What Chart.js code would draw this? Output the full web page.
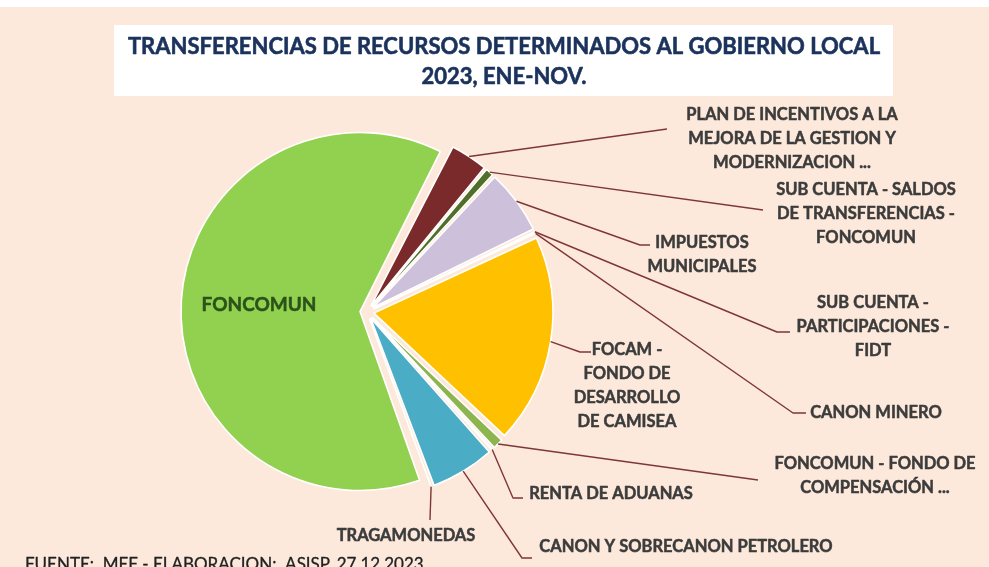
<!DOCTYPE html>
<html lang="es">
<head>
<meta charset="utf-8">
<title>Transferencias de recursos determinados al gobierno local 2023</title>
<script src="https://cdn.jsdelivr.net/npm/chart.js@4.4.1/dist/chart.umd.min.js"></script>
<style>
  html, body { margin: 0; padding: 0; background: #fff; }
  canvas { display: block; }
</style>
</head>
<body>
<canvas id="grafico" width="989" height="567"></canvas>
<script>
// rubros en el sentido de las agujas del reloj, empezando por el de arriba a la derecha
const rubros = [
  'PLAN DE INCENTIVOS A LA MEJORA DE LA GESTION Y MODERNIZACION ...',
  'SUB CUENTA - SALDOS DE TRANSFERENCIAS - FONCOMUN',
  'IMPUESTOS MUNICIPALES',
  'SUB CUENTA - PARTICIPACIONES - FIDT',
  'CANON MINERO',
  'FOCAM - FONDO DE DESARROLLO DE CAMISEA',
  'FONCOMUN - FONDO DE COMPENSACIÓN ...',
  'RENTA DE ADUANAS',
  'CANON Y SOBRECANON PETROLERO',
  'TRAGAMONEDAS',
  'FONCOMUN'
];
// participación (%)
const participacion = [3.5, 0.9, 5.9, 0.2, 0.1, 18.9, 1.1, 0.3, 5.9, 0.2, 63.0];

const colores = ['#7a2a2a', '#4f6f2a', '#ccc0da', '#4f81bd', '#8064a2', '#ffc000',
                 '#8db54f', '#f79646', '#4bacc6', '#1f497d', '#92d050'];

const titulo = ['TRANSFERENCIAS DE RECURSOS DETERMINADOS AL GOBIERNO LOCAL', '2023, ENE-NOV.'];
const fuente = 'FUENTE:  MEF - ELABORACION:  ASISP. 27.12.2023';

// ubicación de cada rótulo y quiebres de su línea guía
const rotulos = [
  { lineas: ['PLAN DE INCENTIVOS A LA', 'MEJORA DE LA GESTION Y', 'MODERNIZACION ...'], x: 792, y: 115, guia: [[667, 129]] },
  { lineas: ['SUB CUENTA - SALDOS', 'DE TRANSFERENCIAS -', 'FONCOMUN'], x: 866, y: 190, guia: [[763, 210]] },
  { lineas: ['IMPUESTOS', 'MUNICIPALES'], x: 702, y: 243, guia: [[640, 245], [650, 245]] },
  { lineas: ['SUB CUENTA -', 'PARTICIPACIONES -', 'FIDT'], x: 873, y: 303, guia: [[777, 332], [790, 332]] },
  { lineas: ['CANON MINERO'], x: 876, y: 413, guia: [[793, 413], [806, 413]] },
  { lineas: ['FOCAM -', 'FONDO DE', 'DESARROLLO', 'DE CAMISEA'], x: 627, y: 350, guia: [[580, 352], [591, 352]] },
  { lineas: ['FONCOMUN - FONDO DE', 'COMPENSACIÓN ...'], x: 875, y: 464, guia: [[758, 480]] },
  { lineas: ['RENTA DE ADUANAS'], x: 611, y: 494, guia: [[513, 498], [523, 498]] },
  { lineas: ['CANON Y SOBRECANON PETROLERO'], x: 686, y: 547, guia: [[522, 558], [532, 558]] },
  { lineas: ['TRAGAMONEDAS'], x: 406, y: 536, guia: [[430, 520]] },
  { lineas: ['FONCOMUN'], x: 259, y: 305, guia: null }
];

const RADIO = 179;
const EMPUJE = 7; // separación de cada porción

// texto con un trazo fino encima para engrosarlo un poco
function escribir(ctx, t, x, y, color, grosor) {
  ctx.fillStyle = color;
  ctx.fillText(t, x, y);
  if (grosor) {
    ctx.strokeStyle = color;
    ctx.lineWidth = grosor;
    ctx.lineJoin = 'round';
    ctx.strokeText(t, x, y);
  }
}

// el fondo, el recuadro del título y la fuente
const fondo = {
  id: 'fondo',
  beforeDraw(chart) {
    const { ctx, width, height } = chart;
    ctx.save();
    ctx.fillStyle = '#ffffff';
    ctx.fillRect(0, 0, width, height);
    ctx.fillStyle = '#fce9db';
    ctx.fillRect(0, 7, width, height - 7);
    ctx.fillStyle = '#ffffff';
    ctx.fillRect(114, 25, 779, 71);

    ctx.font = 'bold 22px Lato';
    ctx.textAlign = 'center';
    ctx.textBaseline = 'middle';
    escribir(ctx, titulo[0], 504, 47, '#1b335c', 0.6);
    escribir(ctx, titulo[1], 504, 77, '#1b335c', 0.6);

    ctx.font = '17px Lato';
    ctx.textAlign = 'left';
    ctx.textBaseline = 'alphabetic';
    escribir(ctx, fuente, 25, 570, '#222222', 0.3);
    ctx.restore();
  }
};

// Chart.js agranda el radio de las porciones desplazadas; se compensa para que todas midan igual
const radioParejo = {
  id: 'radioParejo',
  afterDatasetUpdate(chart, args) {
    args.meta.data.forEach(arc => {
      const fix = 1 - Math.sin(Math.min(Math.PI, arc.circumference));
      arc.outerRadius = RADIO - EMPUJE * fix;
    });
  }
};

// rótulos con líneas guía
const etiquetas = {
  id: 'etiquetas',
  afterDatasetsDraw(chart) {
    const ctx = chart.ctx;
    const arcos = chart.getDatasetMeta(0).data;
    ctx.save();
    arcos.forEach((arc, i) => {
      const r = rotulos[i];
      if (r.guia) {
        const medio = (arc.startAngle + arc.endAngle) / 2;
        const d = RADIO + EMPUJE;
        ctx.beginPath();
        ctx.moveTo(arc.x + Math.cos(medio) * d, arc.y + Math.sin(medio) * d);
        r.guia.forEach(p => ctx.lineTo(p[0], p[1]));
        ctx.strokeStyle = '#7f3636';
        ctx.lineWidth = 1.4;
        ctx.stroke();
      }
      ctx.font = r.guia ? 'bold 16.5px Lato' : 'bold 19px Lato';
      ctx.textAlign = 'center';
      ctx.textBaseline = 'middle';
      const color = r.guia ? '#3c3c3c' : '#2b5319';
      r.lineas.forEach((t, k) => escribir(ctx, t, r.x, r.y + k * 24, color, 0.5));
    });
    ctx.restore();
  }
};

new Chart(document.getElementById('grafico'), {
  type: 'pie',
  data: {
    labels: rubros,
    datasets: [{
      data: participacion,
      backgroundColor: colores,
      borderColor: '#ffffff',
      borderWidth: 1.6,
      offset: EMPUJE * 4
    }]
  },
  options: {
    responsive: false,
    animation: false,
    events: [],
    rotation: 27,
    radius: RADIO,
    layout: { padding: { left: 167, right: 422, top: 112, bottom: 55 } },
    plugins: {
      legend: { display: false },
      tooltip: { enabled: false },
      title: { display: false }
    }
  },
  plugins: [fondo, radioParejo, etiquetas]
});
</script>
</body>
</html>
